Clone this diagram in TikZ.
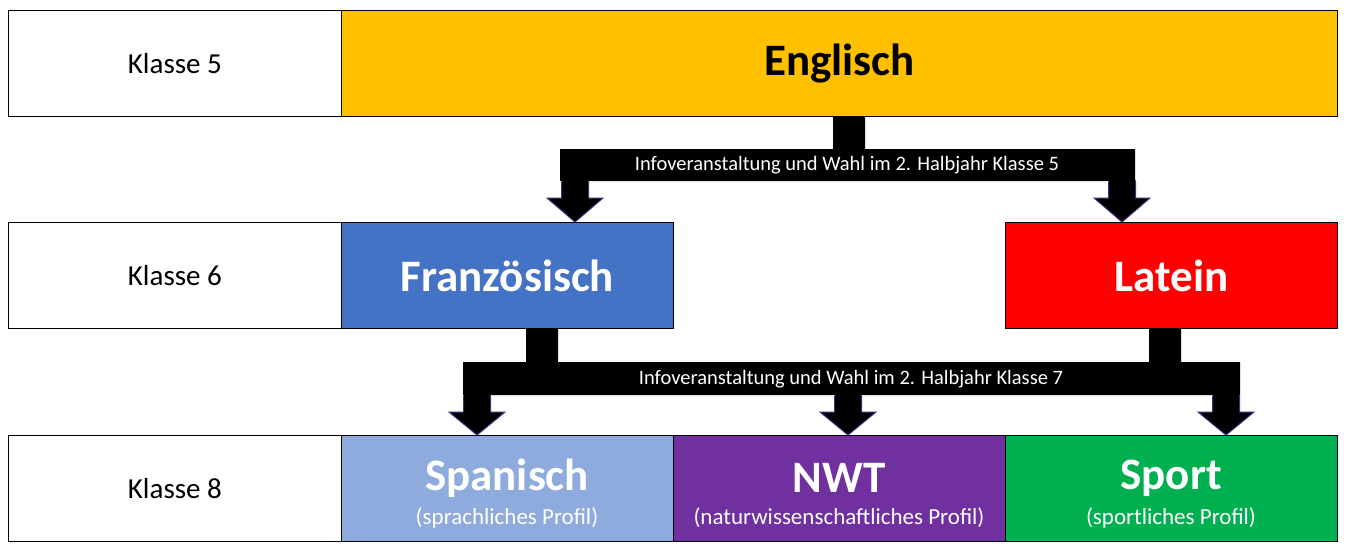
\documentclass[tikz,border=0pt]{standalone}
\usepackage{fontspec}
\setmainfont{Carlito}
\newcommand{\myarr}[4]{%
  \fill[black] (#1-13.5,#2) -- (#1+13.5,#2) -- (#1+13.5,#3) -- (#1+28,#3) -- (#1,#4) -- (#1-28,#3) -- (#1-13.5,#3) -- cycle;
  \draw[arrline] (#1-13.5,#3-16) -- (#1-13.5,#3) -- (#1-28,#3) -- (#1,#4) -- (#1+28,#3) -- (#1+13.5,#3) -- (#1+13.5,#3-16);}
\begin{document}
\begin{tikzpicture}[x=1pt,y=-1pt,
  box/.style={draw=black,line width=0.8pt,minimum height=106pt,inner sep=0pt,anchor=north west},
  lab/.style={box,fill=white,minimum width=333pt,font=\fontsize{29}{33}\selectfont},
  big/.style={font=\bfseries\fontsize{45}{50}\selectfont,text=white},
  sub/.style={font=\fontsize{23}{26}\selectfont,text=white},
  info/.style={text=white,font=\fontsize{20.5}{24}\selectfont},
  arrline/.style={draw=blue!40!black!80,line width=1pt}]
\useasboundingbox (0,0) rectangle (1346,551);
\fill[white] (0,0) rectangle (1346,551);
% connectors
\fill[black] (833,115) rectangle (865,150) (560,149) rectangle (1135,181);
\myarr{575}{180}{198}{222}
\myarr{1122}{180}{198}{222}
\fill[black] (526,328) rectangle (558,363) (1149,328) rectangle (1181,363) (463,362) rectangle (1240,395);
\myarr{477}{394}{412}{435}
\myarr{848}{394}{412}{435}
\myarr{1226}{394}{412}{435}
\node[info] (i1) at (847,165) {Infoveranstaltung und Wahl im 2. Halbjahr Klasse 5};
\node[info] (i2) at (851,379) {Infoveranstaltung und Wahl im 2. Halbjahr Klasse 7};
% rows
\node[lab] (k5) at (8,10) {Klasse 5};
\node[box,fill={rgb,255:red,255;green,192;blue,0},minimum width=996pt,font=\bfseries\fontsize{45}{50}\selectfont] (en) at (341,10) {Englisch};
\node[lab] (k6) at (8,222) {Klasse 6};
\node[box,fill={rgb,255:red,68;green,114;blue,196},minimum width=332pt,big] (fr) at (341,222) {Französisch};
\node[box,fill={rgb,255:red,255;green,0;blue,0},minimum width=332pt,big] (la) at (1005,222) {Latein};
\node[lab] (k8) at (8,435) {Klasse 8};
\node[box,fill={rgb,255:red,143;green,170;blue,220},minimum width=332pt] (sp) at (341,435) {};
\node[box,fill={rgb,255:red,112;green,48;blue,160},minimum width=332pt] (nw) at (673,435) {};
\node[box,fill={rgb,255:red,0;green,176;blue,80},minimum width=332pt] (so) at (1005,435) {};
\node[big] (spt) at (507,478) {Spanisch};
\node[sub] (sps) at (507,518) {(sprachliches Profil)};
\node[big] (nwt) at (839,478) {NWT};
\node[sub] (nws) at (839,518) {(naturwissenschaftliches Profil)};
\node[big] (sot) at (1171,478) {Sport};
\node[sub] (sos) at (1171,518) {(sportliches Profil)};
\end{tikzpicture}
\end{document}
